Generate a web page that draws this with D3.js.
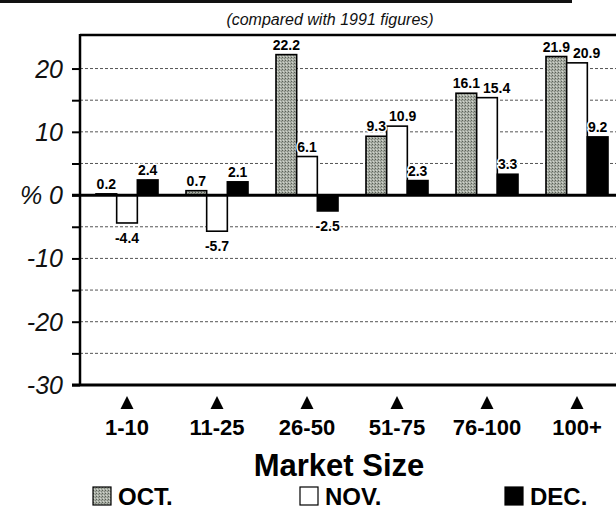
<!DOCTYPE html>
<html>
<head>
<meta charset="utf-8">
<script src="https://cdn.jsdelivr.net/npm/d3@7"></script>
<style>
  html, body { margin: 0; padding: 0; background: #fff; }
  svg { display: block; font-family: "Liberation Sans", Arial, Helvetica, sans-serif; }
</style>
</head>
<body>
<svg id="chart" width="616" height="510"></svg>
<script>
// ---- data ----
const categories = ["1-10", "11-25", "26-50", "51-75", "76-100", "100+"];
const seriesNames = ["OCT.", "NOV.", "DEC."];
const octValues = [0.2, 0.7, 22.2, 9.3, 16.1, 21.9];
const novValues = [-4.4, -5.7, 6.1, 10.9, 15.4, 20.9];
const decValues = [2.4, 2.1, -2.5, 2.3, 3.3, 9.2];
const yTickValues = [-30, -20, -10, 0, 10, 20];
const yTickLabels = ["-30", "-20", "-10", "% 0", "10", "20"];
const gridValues = [-25, -20, -15, -10, -5, 5, 10, 15, 20];
const subtitle = "(compared with 1991 figures)";
const xTitle = "Market Size";

const seriesValues = [octValues, novValues, decValues];
const rows = categories.map((c, i) => ({
  cat: c,
  vals: seriesNames.map((s, j) => ({ key: s, cat: c, v: seriesValues[j][i] }))
}));

// ---- layout ----
const svg = d3.select("#chart");
const pLeft = 80, pTop = 35, pBottom = 385, pRight = 620;

const defs = svg.append("defs");
const pat = defs.append("pattern").attr("id", "stipple")
  .attr("width", 3).attr("height", 3).attr("patternUnits", "userSpaceOnUse");
pat.append("rect").attr("width", 3).attr("height", 3).attr("fill", "#a9aea5");
pat.append("rect").attr("x", 0).attr("y", 0).attr("width", 1).attr("height", 1).attr("fill", "#5a6057");
pat.append("rect").attr("x", 2).attr("y", 1).attr("width", 1).attr("height", 1).attr("fill", "#80867c");
pat.append("rect").attr("x", 1).attr("y", 2).attr("width", 1).attr("height", 1).attr("fill", "#d2d6ce");

const fills = { "OCT.": "url(#stipple)", "NOV.": "#ffffff", "DEC.": "#000000" };

const y = d3.scaleLinear().domain([-30, 25.3]).range([pBottom, pTop]);
const x0 = d3.scaleBand().domain(categories).range([96, 608]).paddingInner(0.311).paddingOuter(0);
const x1 = d3.scaleBand().domain(seriesNames).range([0, x0.bandwidth()]).padding(0);

// top decorative rule
svg.append("line").attr("x1", 0).attr("x2", 572).attr("y1", 1.5).attr("y2", 1.5)
  .attr("stroke", "#111").attr("stroke-width", 3);

// subtitle
svg.append("text").attr("x", 330).attr("y", 25).attr("text-anchor", "middle")
  .attr("font-style", "italic").attr("font-size", 16).attr("fill", "#111").text(subtitle);

// gridlines
svg.append("g").selectAll("line").data(gridValues).join("line")
  .attr("x1", pLeft).attr("x2", pRight)
  .attr("y1", d => y(d)).attr("y2", d => y(d))
  .attr("stroke", "#555").attr("stroke-width", 1).attr("stroke-dasharray", "3,2");

// y axis with ticks every 5
const yAxis = d3.axisLeft(y).tickValues(d3.range(-30, 25, 5)).tickSize(8).tickFormat("");
const ga = svg.append("g").attr("transform", `translate(${pLeft},0)`).call(yAxis);
ga.select(".domain").remove();
ga.selectAll(".tick line").attr("stroke", "#000").attr("stroke-width", 2);

// y tick labels
svg.append("g").selectAll("text").data(yTickValues).join("text")
  .attr("x", 63).attr("y", d => y(d) + 9)
  .attr("text-anchor", "end").attr("font-style", "italic").attr("font-size", 25)
  .attr("fill", "#111")
  .text((d, i) => yTickLabels[i]);

// bars
const groups = svg.append("g").selectAll("g").data(rows).join("g")
  .attr("transform", d => `translate(${x0(d.cat)},0)`);
groups.selectAll("rect").data(d => d.vals).join("rect")
  .attr("x", d => x1(d.key))
  .attr("width", x1.bandwidth())
  .attr("y", d => y(Math.max(0, d.v)))
  .attr("height", d => Math.abs(y(d.v) - y(0)))
  .attr("fill", d => fills[d.key])
  .attr("stroke", "#000").attr("stroke-width", 1.6);

// value labels with simple left-to-right collision avoidance inside each group
const labelFont = 14;
groups.each(function (row) {
  const g = d3.select(this);
  let prev = null;
  row.vals.forEach(d => {
    const t = g.append("text")
      .attr("text-anchor", "middle").attr("font-weight", "bold").attr("font-size", labelFont)
      .attr("fill", "#000")
      .attr("stroke", "#fff").attr("stroke-width", 3).attr("paint-order", "stroke")
      .text(d.v.toFixed(1));
    let cxv = x1(d.key) + x1.bandwidth() / 2;
    const by = d.v >= 0 ? y(d.v) - 5 : y(d.v) + 20;
    t.attr("x", cxv).attr("y", by);
    const w = t.node().getComputedTextLength();
    if (prev && Math.abs(prev.y - by) < labelFont + 1) {
      const need = prev.x + prev.w / 2 + 3 + w / 2;
      if (cxv < need) { cxv = need; t.attr("x", cxv); }
    }
    prev = { x: cxv, y: by, w: w };
  });
});

// frame: left axis, top border, zero line, bottom axis
svg.append("line").attr("x1", pLeft).attr("x2", pLeft).attr("y1", pTop - 1).attr("y2", pBottom + 1)
  .attr("stroke", "#000").attr("stroke-width", 2.5);
svg.append("line").attr("x1", pLeft).attr("x2", pRight).attr("y1", pTop).attr("y2", pTop)
  .attr("stroke", "#000").attr("stroke-width", 2.5);
svg.append("line").attr("x1", pLeft - 8).attr("x2", pRight).attr("y1", y(0)).attr("y2", y(0))
  .attr("stroke", "#000").attr("stroke-width", 3);
svg.append("line").attr("x1", pLeft - 8).attr("x2", pRight).attr("y1", pBottom).attr("y2", pBottom)
  .attr("stroke", "#000").attr("stroke-width", 3);

// triangles and category labels
const cx = c => x0(c) + x0.bandwidth() / 2;
svg.append("g").selectAll("path").data(categories).join("path")
  .attr("d", c => `M${cx(c) - 6.5},409 L${cx(c) + 6.5},409 L${cx(c)},396 Z`)
  .attr("fill", "#000");
svg.append("g").selectAll("text").data(categories).join("text")
  .attr("x", c => cx(c)).attr("y", 435)
  .attr("text-anchor", "middle").attr("font-weight", "bold").attr("font-size", 22)
  .attr("fill", "#000").text(c => c);

// axis title
svg.append("text").attr("x", 339).attr("y", 476).attr("text-anchor", "middle")
  .attr("font-weight", "bold").attr("font-size", 31).attr("fill", "#000").text(xTitle);

// legend
const legendX = [93, 300, 505];
const lg = svg.append("g").selectAll("g").data(seriesNames).join("g")
  .attr("transform", (d, i) => `translate(${legendX[i]},487)`);
lg.append("rect").attr("width", 18).attr("height", 18)
  .attr("fill", d => fills[d]).attr("stroke", "#000").attr("stroke-width", 1.2);
lg.append("text").attr("x", 25).attr("y", 18)
  .attr("font-weight", "bold").attr("font-size", 24).attr("fill", "#000").text(d => d);
</script>
</body>
</html>
